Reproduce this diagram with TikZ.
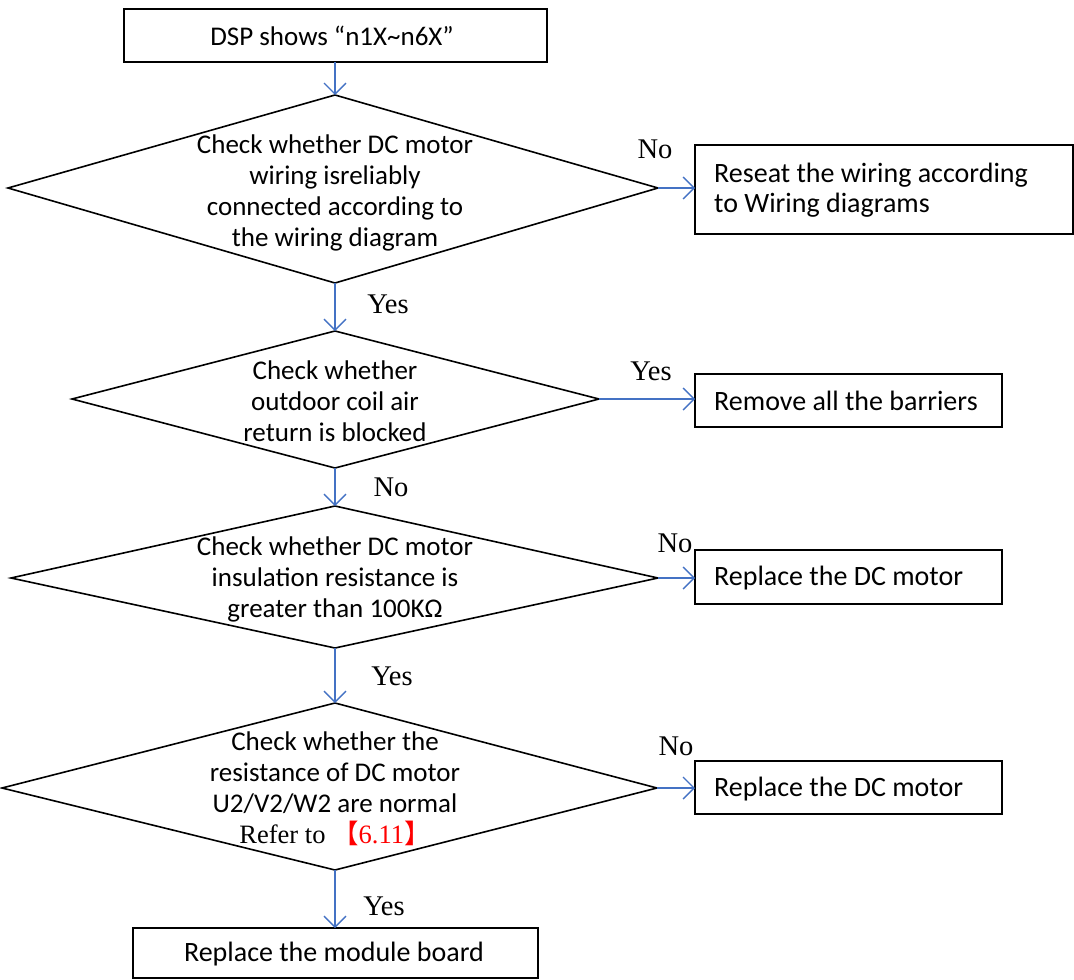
\documentclass[tikz,border=0pt]{standalone}
\usepackage{fontspec}
\setmainfont{Carlito}
\newfontfamily\tnr{Liberation Serif}
\newfontfamily\cjk{Noto Sans CJK SC}
\usetikzlibrary{arrows.meta}
\definecolor{arrowblue}{RGB}{68,114,196}
\definecolor{refred}{RGB}{255,0,0}
\tikzset{
  box/.style={draw=black, line width=1.6pt, inner sep=0pt},
  dtxt/.style={align=center, font=\fontsize{27}{31}\selectfont, inner sep=0pt},
  btxt/.style={align=left, font=\fontsize{28}{29.5}\selectfont, inner sep=0pt, anchor=west},
  ctxt/.style={align=center, font=\fontsize{28}{29.5}\selectfont, inner sep=0pt},
  lbl/.style={font=\tnr\fontsize{28.5}{30}\selectfont, inner sep=0pt},
  flow/.style={draw=arrowblue, line width=1.4pt, -{Straight Barb[length=11pt,width=22pt,line width=1.4pt]}},
  shp/.style={draw=black, line width=1.6pt, line join=miter}
}
\begin{document}
\begin{tikzpicture}[x=1pt,y=-1pt]
\useasboundingbox (0,0) rectangle (1074,980);
% top box
\draw[box] (124,9) rectangle (547,62);
\node[dtxt] (start) at (332,35.5) {DSP shows “n1X\textasciitilde n6X”};
\coordinate (startS) at (335,62);
% diamond 1
\coordinate (d1N) at (335,95);
\coordinate (d1W) at (8,188);
\coordinate (d1E) at (658,188);
\coordinate (d1S) at (335,283);
\draw[shp] (d1N) -- (d1E) -- (d1S) -- (d1W) -- cycle;
\node[dtxt] (d1) at (335,193) {Check whether DC motor\\wiring isreliably\\connected according to\\the wiring diagram};
% box reseat
\draw[box] (695,145) rectangle (1073,234);
\coordinate (b2W) at (695,188);
\node[btxt] (b2) at (714,190) {Reseat the wiring according\\to Wiring diagrams};
% diamond 2
\coordinate (d2N) at (335,331);
\coordinate (d2W) at (72,399);
\coordinate (d2E) at (599,399);
\coordinate (d2S) at (335,468);
\draw[shp] (d2N) -- (d2E) -- (d2S) -- (d2W) -- cycle;
\node[dtxt] (d2) at (335,401) {Check whether\\outdoor coil air\\return is blocked};
% box remove
\draw[box] (695,374) rectangle (1002,427);
\coordinate (b3W) at (695,399);
\node[btxt] (b3) at (714,401) {Remove all the barriers};
% diamond 3
\coordinate (d3N) at (335,506);
\coordinate (d3W) at (11,578);
\coordinate (d3E) at (658,578);
\coordinate (d3S) at (335,648);
\draw[shp] (d3N) -- (d3E) -- (d3S) -- (d3W) -- cycle;
\node[dtxt] (d3) at (335,579) {Check whether DC motor\\insulation resistance is\\greater than 100KΩ};
% box replace motor 1
\draw[box] (695,550) rectangle (1002,604);
\coordinate (b4W) at (695,578);
\node[btxt] (b4) at (714,578) {Replace the DC motor};
% diamond 4
\coordinate (d4N) at (335,703);
\coordinate (d4W) at (2,788);
\coordinate (d4E) at (657,788);
\coordinate (d4S) at (335,870);
\draw[shp] (d4N) -- (d4E) -- (d4S) -- (d4W) -- cycle;
\node[dtxt] (d4) at (335,789) {Check whether the\\resistance of DC motor\\U2/V2/W2 are normal\\{\tnr\fontsize{26.5}{31}\selectfont Refer to \textcolor{refred}{{\cjk【}6.11{\cjk】}}}};
% box replace motor 2
\draw[box] (695,761) rectangle (1002,814);
\coordinate (b5W) at (695,788);
\node[btxt] (b5) at (714,789) {Replace the DC motor};
% final box
\draw[box] (133,928) rectangle (538,978);
\coordinate (b6N) at (335,928);
\node[ctxt] (b6) at (334,954) {Replace the module board};
% connectors
\draw[flow] (startS) -- (d1N);
\draw[flow] (d1E) -- (b2W);
\draw[flow] (d1S) -- (d2N);
\draw[flow] (d2E) -- (b3W);
\draw[flow] (d2S) -- (d3N);
\draw[flow] (d3E) -- (b4W);
\draw[flow] (d3S) -- (d4N);
\draw[flow] (d4E) -- (b5W);
\draw[flow] (d4S) -- (b6N);
% labels
\node[lbl] (l1) at (655,149) {No};
\node[lbl] (l2) at (388,304) {Yes};
\node[lbl] (l3) at (651,371) {Yes};
\node[lbl] (l4) at (391,487) {No};
\node[lbl] (l5) at (675,543) {No};
\node[lbl] (l6) at (392,676) {Yes};
\node[lbl] (l7) at (676,746) {No};
\node[lbl] (l8) at (384,906) {Yes};
\end{tikzpicture}
\end{document}
